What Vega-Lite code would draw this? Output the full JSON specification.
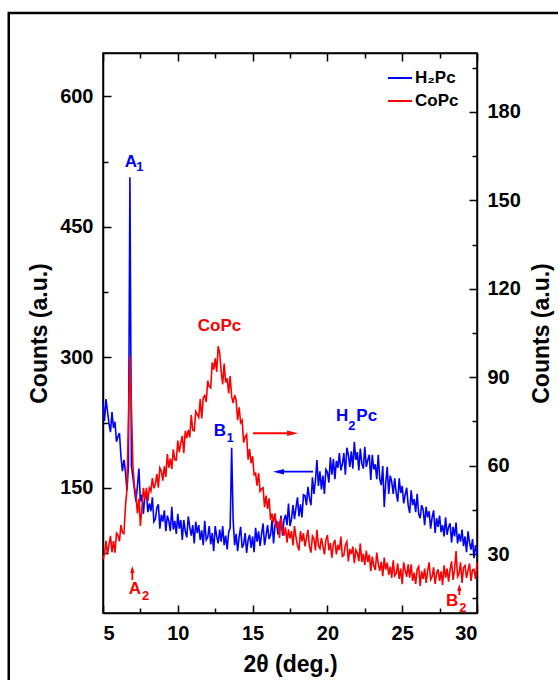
{
"$schema":"https://vega.github.io/schema/vega-lite/v6.json",
"width":374,"height":560,
"autosize":"none",
"padding":{"left":103,"top":53,"right":81,"bottom":67},
"background":"white",
"config":{
 "view":{"stroke":"black","strokeWidth":1.5},
 "font":"Liberation Sans",
 "axis":{"grid":false,"domainColor":"black","domainWidth":1.5,"tickColor":"black","tickWidth":1.5,"labelFont":"Liberation Sans","labelFontSize":20,"labelFontWeight":"bold","labelColor":"black","titleFont":"Liberation Sans","titleFontSize":23,"titleFontWeight":"bold","titleColor":"black","labelPadding":18}
},
"datasets":{
"xrd":[
{"x":5.0,"h":249,"c":28.2},{"x":5.1,"h":227,"c":30.0},{"x":5.2,"h":252,"c":34.5},{"x":5.3,"h":238,"c":29.9},{"x":5.4,"h":224,"c":33.1},{"x":5.5,"h":214,"c":36.2},{"x":5.6,"h":237,"c":30.6},{"x":5.7,"h":219,"c":34.4},{"x":5.8,"h":226,"c":30.5},{"x":5.9,"h":203,"c":37.1},
{"x":6.0,"h":209,"c":36.4},{"x":6.1,"h":213,"c":34.3},{"x":6.2,"h":186,"c":39.8},{"x":6.3,"h":169,"c":37.3},{"x":6.4,"h":182,"c":36.9},{"x":6.5,"h":169,"c":46},{"x":6.6,"h":147,"c":52},{"x":6.7,"h":175,"c":75},{"x":6.8,"h":507,"c":97},{"x":6.9,"h":175,"c":80},
{"x":7.0,"h":162,"c":60},{"x":7.1,"h":148,"c":53},{"x":7.2,"h":134,"c":50.1},{"x":7.3,"h":152,"c":43.8},{"x":7.4,"h":172,"c":48.8},{"x":7.5,"h":134,"c":39.5},{"x":7.6,"h":142,"c":45.6},{"x":7.7,"h":120,"c":52.5},{"x":7.8,"h":141,"c":48.6},{"x":7.9,"h":144,"c":52.5},
{"x":8.0,"h":122,"c":47.9},{"x":8.1,"h":132,"c":52.4},{"x":8.2,"h":123,"c":51.3},{"x":8.3,"h":139,"c":55.8},{"x":8.4,"h":111,"c":52.3},{"x":8.5,"h":114,"c":53.7},{"x":8.6,"h":127,"c":57.1},{"x":8.7,"h":131,"c":52.5},{"x":8.8,"h":103,"c":59.2},{"x":8.9,"h":119,"c":58.1},
{"x":9.0,"h":111,"c":54.9},{"x":9.1,"h":124,"c":59.8},{"x":9.2,"h":100,"c":56.2},{"x":9.3,"h":118,"c":63.9},{"x":9.4,"h":112,"c":59.3},{"x":9.5,"h":100,"c":62.4},{"x":9.6,"h":128,"c":58.9},{"x":9.7,"h":102,"c":65.5},{"x":9.8,"h":112,"c":62.0},{"x":9.9,"h":97,"c":61.9},
{"x":10.0,"h":120,"c":68.5},{"x":10.1,"h":103,"c":64.6},{"x":10.2,"h":113,"c":67.7},{"x":10.3,"h":90,"c":70.1},{"x":10.4,"h":113,"c":64.2},{"x":10.5,"h":100,"c":71.8},{"x":10.6,"h":93,"c":69.3},{"x":10.7,"h":117,"c":72.1},{"x":10.8,"h":105,"c":69.6},{"x":10.9,"h":95,"c":77.2},
{"x":11.0,"h":107,"c":72},{"x":11.1,"h":86,"c":71.8},{"x":11.2,"h":111,"c":78.4},{"x":11.3,"h":98,"c":77.4},{"x":11.4,"h":107,"c":76.4},{"x":11.5,"h":90,"c":82.6},{"x":11.6,"h":101,"c":76},{"x":11.7,"h":84,"c":83},{"x":11.8,"h":112,"c":83.8},{"x":11.9,"h":90,"c":81.6},
{"x":12.0,"h":93,"c":88.8},{"x":12.1,"h":106,"c":86.8},{"x":12.2,"h":85,"c":86.4},{"x":12.3,"h":98,"c":95},{"x":12.4,"h":77,"c":92.6},{"x":12.5,"h":106,"c":96.4},{"x":12.6,"h":94,"c":91.8},{"x":12.7,"h":86,"c":100.5},{"x":12.8,"h":102,"c":98.2},{"x":12.9,"h":88,"c":92},
{"x":13.0,"h":106,"c":87.6},{"x":13.1,"h":84,"c":94.6},{"x":13.2,"h":95,"c":88.2},{"x":13.3,"h":79,"c":89.6},{"x":13.4,"h":99,"c":84.6},{"x":13.5,"h":104,"c":90.4},{"x":13.6,"h":196,"c":83.4},{"x":13.7,"h":112,"c":81.2},{"x":13.8,"h":84,"c":84},{"x":13.9,"h":97,"c":82.2},
{"x":14.0,"h":77,"c":75.4},{"x":14.1,"h":94,"c":79.8},{"x":14.2,"h":105,"c":74.6},{"x":14.3,"h":81,"c":75.4},{"x":14.4,"h":85,"c":67.8},{"x":14.5,"h":98,"c":69.8},{"x":14.6,"h":75,"c":70.6},{"x":14.7,"h":90,"c":62},{"x":14.8,"h":96,"c":65.6},{"x":14.9,"h":81,"c":60.8},
{"x":15.0,"h":94,"c":63.2},{"x":15.1,"h":76,"c":56.9},{"x":15.2,"h":104,"c":57.4},{"x":15.3,"h":88,"c":53.2},{"x":15.4,"h":100,"c":57.5},{"x":15.5,"h":83,"c":51.3},{"x":15.6,"h":97,"c":52.1},{"x":15.7,"h":109,"c":52.5},{"x":15.8,"h":84,"c":45.9},{"x":15.9,"h":95,"c":49.8},
{"x":16.0,"h":107,"c":45.3},{"x":16.1,"h":91,"c":48.9},{"x":16.2,"h":96,"c":41.6},{"x":16.3,"h":113,"c":43.7},{"x":16.4,"h":86,"c":40.6},{"x":16.5,"h":108,"c":43.8},{"x":16.6,"h":111,"c":38.9},{"x":16.7,"h":96,"c":41.1},{"x":16.8,"h":106,"c":35.5},{"x":16.9,"h":118,"c":42.2},
{"x":17.0,"h":95,"c":38.4},{"x":17.1,"h":113,"c":36.3},{"x":17.2,"h":119,"c":39.1},{"x":17.3,"h":107,"c":33.9},{"x":17.4,"h":132,"c":38.4},{"x":17.5,"h":106,"c":35.3},{"x":17.6,"h":114,"c":37.8},{"x":17.7,"h":130,"c":32.9},{"x":17.8,"h":114,"c":39.5},{"x":17.9,"h":127,"c":35.7},
{"x":18.0,"h":139,"c":32.9},{"x":18.1,"h":117,"c":31.2},{"x":18.2,"h":131,"c":37.8},{"x":18.3,"h":116,"c":34.3},{"x":18.4,"h":142,"c":37.1},{"x":18.5,"h":141,"c":32.6},{"x":18.6,"h":130,"c":35.4},{"x":18.7,"h":151,"c":38.2},{"x":18.8,"h":138,"c":32.6},{"x":18.9,"h":130,"c":30.5},
{"x":19.0,"h":162,"c":36.1},{"x":19.1,"h":143,"c":35.1},{"x":19.2,"h":158,"c":31.2},{"x":19.3,"h":182,"c":38.2},{"x":19.4,"h":152,"c":33},{"x":19.5,"h":169,"c":31.9},{"x":19.6,"h":148,"c":35.5},{"x":19.7,"h":164,"c":32.7},{"x":19.8,"h":143,"c":29.9},{"x":19.9,"h":171,"c":34.8},
{"x":20.0,"h":168,"c":36.5},{"x":20.1,"h":156,"c":31.3},{"x":20.2,"h":185,"c":33.7},{"x":20.3,"h":165,"c":28.8},{"x":20.4,"h":183,"c":33.4},{"x":20.5,"h":160,"c":34.8},{"x":20.6,"h":181,"c":29.9},{"x":20.7,"h":173,"c":33.1},{"x":20.8,"h":190,"c":31.3},{"x":20.9,"h":170,"c":35.9},
{"x":21.0,"h":177,"c":29.2},{"x":21.1,"h":190,"c":29.6},{"x":21.2,"h":165,"c":33.1},{"x":21.3,"h":196,"c":34.2},{"x":21.4,"h":188,"c":27.5},{"x":21.5,"h":174,"c":31.7},{"x":21.6,"h":192,"c":30},{"x":21.7,"h":172,"c":32.5},{"x":21.8,"h":203,"c":26.9},{"x":21.9,"h":182,"c":31.4},
{"x":22.0,"h":191,"c":30.4},{"x":22.1,"h":170,"c":27.6},{"x":22.2,"h":195,"c":33.6},{"x":22.3,"h":178,"c":27.3},{"x":22.4,"h":172,"c":30.1},{"x":22.5,"h":197,"c":26.2},{"x":22.6,"h":174,"c":31.2},{"x":22.7,"h":182,"c":27.3},{"x":22.8,"h":188,"c":29.8},{"x":22.9,"h":159,"c":24.2},
{"x":23.0,"h":188,"c":29.1},{"x":23.1,"h":171,"c":26},{"x":23.2,"h":177,"c":24.6},{"x":23.3,"h":160,"c":30.5},{"x":23.4,"h":188,"c":26.7},{"x":23.5,"h":160,"c":24.3},{"x":23.6,"h":153,"c":27.4},{"x":23.7,"h":175,"c":22.5},{"x":23.8,"h":128,"c":28.8},{"x":23.9,"h":156,"c":24.7},
{"x":24.0,"h":174,"c":27.1},{"x":24.1,"h":143,"c":22.9},{"x":24.2,"h":164,"c":25.7},{"x":24.3,"h":157,"c":21.9},{"x":24.4,"h":143,"c":27.9},{"x":24.5,"h":161,"c":22.6},{"x":24.6,"h":144,"c":23.3},{"x":24.7,"h":134,"c":26.8},{"x":24.8,"h":161,"c":21.6},{"x":24.9,"h":144,"c":25.1},
{"x":25.0,"h":152,"c":19.8},{"x":25.1,"h":132,"c":27.2},{"x":25.2,"h":142,"c":24.4},{"x":25.3,"h":150,"c":22.3},{"x":25.4,"h":130,"c":26.5},{"x":25.5,"h":121,"c":22},{"x":25.6,"h":147,"c":26.5},{"x":25.7,"h":130,"c":20.9},{"x":25.8,"h":137,"c":23.7},{"x":25.9,"h":122,"c":19.9},
{"x":26.0,"h":143,"c":24.8},{"x":26.1,"h":120,"c":25.8},{"x":26.2,"h":115,"c":19.2},{"x":26.3,"h":130,"c":24.1},{"x":26.4,"h":125,"c":21.6},{"x":26.5,"h":107,"c":25.1},{"x":26.6,"h":128,"c":20.2},{"x":26.7,"h":116,"c":24.4},{"x":26.8,"h":123,"c":27.2},{"x":26.9,"h":103,"c":21.3},
{"x":27.0,"h":116,"c":22.3},{"x":27.1,"h":124,"c":25.5},{"x":27.2,"h":98,"c":19.9},{"x":27.3,"h":115,"c":23.4},{"x":27.4,"h":105,"c":24.8},{"x":27.5,"h":118,"c":20.9},{"x":27.6,"h":99,"c":24.1},{"x":27.7,"h":107,"c":19.5},{"x":27.8,"h":94,"c":26.2},{"x":27.9,"h":116,"c":22},
{"x":28.0,"h":96,"c":25.1},{"x":28.1,"h":105,"c":20.6},{"x":28.2,"h":109,"c":24.7},{"x":28.3,"h":87,"c":27.5},{"x":28.4,"h":105,"c":21.2},{"x":28.5,"h":94,"c":24.7},{"x":28.6,"h":110,"c":31},{"x":28.7,"h":86,"c":22.3},{"x":28.8,"h":97,"c":23.3},{"x":28.9,"h":88,"c":27.2},
{"x":29.0,"h":102,"c":20.2},{"x":29.1,"h":83,"c":25.4},{"x":29.2,"h":94,"c":26.1},{"x":29.3,"h":76,"c":21.9},{"x":29.4,"h":100,"c":24.4},{"x":29.5,"h":87,"c":26.8},{"x":29.6,"h":79,"c":20.9},{"x":29.7,"h":91,"c":24.7},{"x":29.8,"h":69,"c":24.8},{"x":29.9,"h":84,"c":21.6},
{"x":30.0,"h":74,"c":27.2}
],
"ann":[
{"g":"bl","t":"A","x":6.87,"y":525},
{"g":"bs","t":"1","x":7.47,"y":519},
{"g":"bl","t":"B","x":12.82,"y":215},
{"g":"bs","t":"1","x":13.49,"y":207},
{"g":"bl","t":"H","x":20.98,"y":233},
{"g":"bs","t":"2","x":21.64,"y":221},
{"g":"bl","t":"Pc","x":22.63,"y":232},
{"g":"rl","t":"CoPc","x":12.79,"y":336},
{"g":"rl","t":"A","x":7.14,"y":34},
{"g":"rs","t":"2","x":7.84,"y":26},
{"g":"rl","t":"B","x":28.33,"y":20},
{"g":"rs","t":"2","x":29.06,"y":12}
],
"arr":[
{"s":"r","x":15.03,"x2":17.6,"y":212.7,"y2":212.7},
{"s":"b","x":16.8,"x2":19.04,"y":168.5,"y2":168.5},
{"s":"r","x":6.96,"x2":6.96,"y":44,"y2":57},
{"s":"r","x":28.82,"x2":28.82,"y":26.7,"y2":35}
],
"hd":[
{"d":"r","x":17.67,"y":212.7},
{"d":"l","x":16.73,"y":168.5},
{"d":"u","x":6.96,"y":56},
{"d":"u","x":28.82,"y":35.3}
]
},
"layer":[
{"data":{"values":[{}]},
 "mark":{"type":"rect","filled":false,"stroke":"black","strokeWidth":2.5,"clip":false},
 "encoding":{
  "x":{"datum":-1.3,"type":"quantitative","scale":{"domain":[5,30],"nice":false,"zero":false},"axis":null},
  "x2":{"datum":37},
  "y":{"datum":696,"type":"quantitative","scale":{"domain":[6,650],"nice":false,"zero":false},"axis":null},
  "y2":{"datum":-120}
 }},
{"data":{"name":"xrd"},
 "mark":{"type":"line","strokeWidth":1.6},
 "encoding":{
  "x":{"field":"x","type":"quantitative","scale":{"domain":[5,30],"nice":false,"zero":false},
       "axis":{"orient":"bottom","values":[5,10,15,20,25,30],"tickSize":-8,"title":"2θ (deg.)","titlePadding":10}},
  "y":{"field":"h","type":"quantitative","scale":{"domain":[6,650],"nice":false,"zero":false},
       "axis":{"orient":"left","values":[150,300,450,600],"tickSize":-8,"title":"Counts (a.u.)","titlePadding":8}},
  "color":{"datum":"H₂Pc","scale":{"domain":["H₂Pc","CoPc"],"range":["#0000ff","#ff0000"]},
       "legend":{"orient":"none","legendX":284,"legendY":12,"title":null,"symbolType":"stroke","symbolStrokeWidth":2,"symbolSize":576,"labelFontSize":17,"labelFontWeight":"bold","labelFont":"Liberation Sans","labelColor":"black","labelOffset":2,"rowPadding":2,"padding":0,"symbolOffset":0}}
 }},
{"data":{"name":"xrd"},
 "mark":{"type":"line","strokeWidth":1.6},
 "encoding":{
  "x":{"field":"x","type":"quantitative","scale":{"domain":[5,30],"nice":false,"zero":false},
       "axis":{"orient":"top","values":[5,10,15,20,25,30],"tickSize":-8,"labels":false,"title":null}},
  "y":{"field":"c","type":"quantitative","scale":{"domain":[10,200],"nice":false,"zero":false},
       "axis":{"orient":"right","values":[30,60,90,120,150,180],"tickSize":-8,"title":"Counts (a.u.)","titleAngle":270,"titleBaseline":"top","titlePadding":10}},
  "color":{"datum":"CoPc","scale":{"domain":["H₂Pc","CoPc"],"range":["#0000ff","#ff0000"]}}
 }},
{"data":{"name":"xrd"},
 "mark":{"type":"point","opacity":0},
 "encoding":{
  "x":{"field":"x","type":"quantitative","scale":{"domain":[5,30],"nice":false,"zero":false},
       "axis":{"orient":"bottom","values":[7.5,12.5,17.5,22.5,27.5],"tickSize":-5,"labels":false,"domain":false,"title":null}},
  "y":{"field":"h","type":"quantitative","scale":{"domain":[6,650],"nice":false,"zero":false},
       "axis":{"orient":"left","values":[75,225,375,525],"tickSize":-5,"labels":false,"domain":false,"title":null}}
 }},
{"data":{"name":"xrd"},
 "mark":{"type":"point","opacity":0},
 "encoding":{
  "x":{"field":"x","type":"quantitative","scale":{"domain":[5,30],"nice":false,"zero":false},
       "axis":{"orient":"top","values":[7.5,12.5,17.5,22.5,27.5],"tickSize":-5,"labels":false,"domain":false,"title":null}},
  "y":{"field":"c","type":"quantitative","scale":{"domain":[10,200],"nice":false,"zero":false},
       "axis":{"orient":"right","values":[15,45,75,105,135,165,195],"tickSize":-5,"labels":false,"domain":false,"title":null}}
 }},
{"data":{"name":"ann"},"transform":[{"filter":"datum.g == 'bl'"}],
 "mark":{"type":"text","font":"Liberation Sans","fontWeight":"bold","fontSize":17,"color":"#0000ff","align":"center","baseline":"middle","clip":false},
 "encoding":{
  "x":{"field":"x","type":"quantitative","scale":{"domain":[5,30],"nice":false,"zero":false},"axis":null},
  "y":{"field":"y","type":"quantitative","scale":{"domain":[6,650],"nice":false,"zero":false},"axis":null},
  "text":{"field":"t"}
 }},
{"data":{"name":"ann"},"transform":[{"filter":"datum.g == 'bs'"}],
 "mark":{"type":"text","font":"Liberation Sans","fontWeight":"bold","fontSize":13,"color":"#0000ff","align":"center","baseline":"middle","clip":false},
 "encoding":{
  "x":{"field":"x","type":"quantitative","scale":{"domain":[5,30],"nice":false,"zero":false},"axis":null},
  "y":{"field":"y","type":"quantitative","scale":{"domain":[6,650],"nice":false,"zero":false},"axis":null},
  "text":{"field":"t"}
 }},
{"data":{"name":"ann"},"transform":[{"filter":"datum.g == 'rl'"}],
 "mark":{"type":"text","font":"Liberation Sans","fontWeight":"bold","fontSize":17,"color":"#ff0000","align":"center","baseline":"middle","clip":false},
 "encoding":{
  "x":{"field":"x","type":"quantitative","scale":{"domain":[5,30],"nice":false,"zero":false},"axis":null},
  "y":{"field":"y","type":"quantitative","scale":{"domain":[6,650],"nice":false,"zero":false},"axis":null},
  "text":{"field":"t"}
 }},
{"data":{"name":"ann"},"transform":[{"filter":"datum.g == 'rs'"}],
 "mark":{"type":"text","font":"Liberation Sans","fontWeight":"bold","fontSize":13,"color":"#ff0000","align":"center","baseline":"middle","clip":false},
 "encoding":{
  "x":{"field":"x","type":"quantitative","scale":{"domain":[5,30],"nice":false,"zero":false},"axis":null},
  "y":{"field":"y","type":"quantitative","scale":{"domain":[6,650],"nice":false,"zero":false},"axis":null},
  "text":{"field":"t"}
 }},
{"data":{"name":"arr"},"transform":[{"filter":"datum.s == 'r'"}],
 "mark":{"type":"rule","color":"#ff0000","strokeWidth":1.8},
 "encoding":{
  "x":{"field":"x","type":"quantitative","scale":{"domain":[5,30],"nice":false,"zero":false},"axis":null},
  "x2":{"field":"x2"},
  "y":{"field":"y","type":"quantitative","scale":{"domain":[6,650],"nice":false,"zero":false},"axis":null},
  "y2":{"field":"y2"}
 }},
{"data":{"name":"arr"},"transform":[{"filter":"datum.s == 'b'"}],
 "mark":{"type":"rule","color":"#0000ff","strokeWidth":1.8},
 "encoding":{
  "x":{"field":"x","type":"quantitative","scale":{"domain":[5,30],"nice":false,"zero":false},"axis":null},
  "x2":{"field":"x2"},
  "y":{"field":"y","type":"quantitative","scale":{"domain":[6,650],"nice":false,"zero":false},"axis":null},
  "y2":{"field":"y2"}
 }},
{"data":{"name":"hd"},"transform":[{"filter":"datum.d == 'r'"}],
 "mark":{"type":"point","filled":true,"opacity":1,"color":"#ff0000","shape":"M-1,-0.5L1,0L-1,0.5Z","size":121,"strokeWidth":0},
 "encoding":{
  "x":{"field":"x","type":"quantitative","scale":{"domain":[5,30],"nice":false,"zero":false},"axis":null},
  "y":{"field":"y","type":"quantitative","scale":{"domain":[6,650],"nice":false,"zero":false},"axis":null}
 }},
{"data":{"name":"hd"},"transform":[{"filter":"datum.d == 'l'"}],
 "mark":{"type":"point","filled":true,"opacity":1,"color":"#0000ff","shape":"M1,-0.5L-1,0L1,0.5Z","size":121,"strokeWidth":0},
 "encoding":{
  "x":{"field":"x","type":"quantitative","scale":{"domain":[5,30],"nice":false,"zero":false},"axis":null},
  "y":{"field":"y","type":"quantitative","scale":{"domain":[6,650],"nice":false,"zero":false},"axis":null}
 }},
{"data":{"name":"hd"},"transform":[{"filter":"datum.d == 'u'"}],
 "mark":{"type":"point","filled":true,"opacity":1,"color":"#ff0000","shape":"M-0.6,1L0,-1L0.6,1Z","size":49,"strokeWidth":0},
 "encoding":{
  "x":{"field":"x","type":"quantitative","scale":{"domain":[5,30],"nice":false,"zero":false},"axis":null},
  "y":{"field":"y","type":"quantitative","scale":{"domain":[6,650],"nice":false,"zero":false},"axis":null}
 }}
],
"resolve":{"scale":{"y":"independent"},"axis":{"x":"independent","y":"independent"}}
}
